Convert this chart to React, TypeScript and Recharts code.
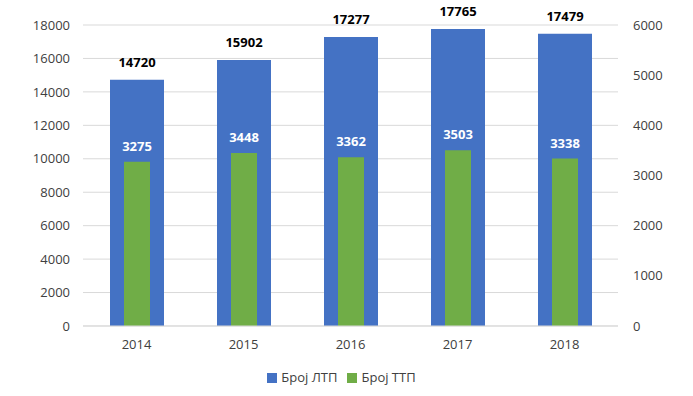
import { BarChart, Bar, XAxis, YAxis, CartesianGrid, Legend, LabelList } from 'recharts'

const years = ['2014', '2015', '2016', '2017', '2018']
const ltp = [14720, 15902, 17277, 17765, 17479]
const ttp = [3275, 3448, 3362, 3503, 3338]
const leftTicks = [0, 2000, 4000, 6000, 8000, 10000, 12000, 14000, 16000, 18000]
const rightTicks = [0, 1000, 2000, 3000, 4000, 5000, 6000]

const data = years.map((year, i) => ({ year, ltp: ltp[i], ttp: ttp[i] }))

const font = '"Open Sans", "Noto Sans", sans-serif'
const tickStyle = { fill: '#404040', fontSize: 13, fontFamily: font }

export default function App() {
  return (
    <div style={{ position: 'fixed', left: 0, top: 0, width: 693, height: 396, background: '#fff' }}>
      <BarChart width={693} height={396} data={data} margin={{ top: 25, right: 0, left: 0, bottom: 10 }}>
        <CartesianGrid vertical={false} stroke="#d9d9d9" yAxisId="left" />
        <XAxis xAxisId="a" dataKey="year" axisLine={{ stroke: '#d9d9d9' }} tickLine={false} tick={tickStyle} tickMargin={8} height={42} />
        <XAxis xAxisId="b" dataKey="year" hide />
        <YAxis yAxisId="left" domain={[0, 18000]} ticks={leftTicks} axisLine={false} tickLine={false} tickSize={0} tickMargin={13} width={83} tick={tickStyle} />
        <YAxis yAxisId="right" orientation="right" domain={[0, 6000]} ticks={rightTicks} axisLine={false} tickLine={false} tickSize={0} tickMargin={15} width={75} tick={{ ...tickStyle, textAnchor: 'start' }} />
        <Legend
          verticalAlign="bottom"
          iconType="square"
          iconSize={10}
          formatter={(v) => <span style={{ color: '#404040', fontSize: 13, fontFamily: font }}>{v}</span>}
        />
        <Bar xAxisId="a" yAxisId="left" dataKey="ltp" name="Број ЛТП" fill="#4472C4" barSize={54} isAnimationActive={false}>
          <LabelList dataKey="ltp" position="top" offset={13} style={{ fill: '#000', fontWeight: 'bold', fontSize: 13, fontFamily: font }} />
        </Bar>
        <Bar xAxisId="b" yAxisId="right" dataKey="ttp" name="Број ТТП" fill="#70AD47" barSize={26} isAnimationActive={false}>
          <LabelList dataKey="ttp" position="top" offset={11} style={{ fill: '#fff', fontWeight: 'bold', fontSize: 13, fontFamily: font }} />
        </Bar>
      </BarChart>
    </div>
  )
}
